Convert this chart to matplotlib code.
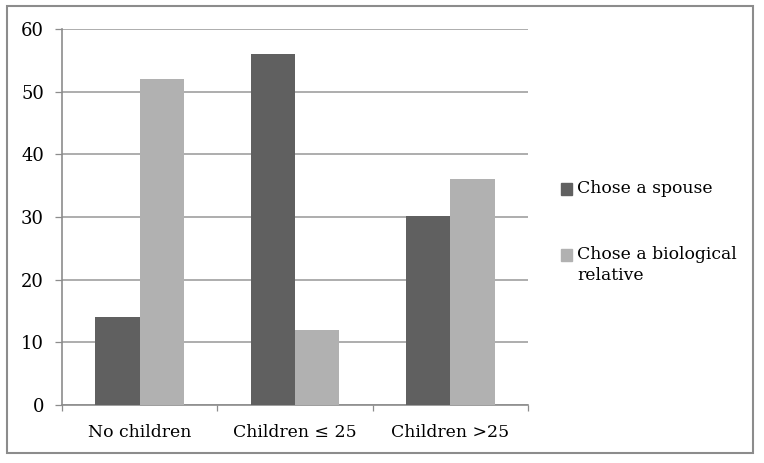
import numpy as np
import matplotlib.pyplot as plt
from matplotlib.patches import Rectangle

categories = ['No children', 'Children \u2264 25', 'Children >25']
spouse = [14, 56, 30.2]
relative = [52, 12, 36]
series_labels = ['Chose a spouse', 'Chose a biological\nrelative']
yticks = [0, 10, 20, 30, 40, 50, 60]

DARK = '#606060'
LIGHT = '#b1b1b1'
AXIS = '#8c8c8c'
W, H = 764, 463

plt.rcParams['font.family'] = ['DejaVu Serif']

fig = plt.figure(figsize=(W / 100, H / 100), dpi=100)
ax = fig.add_axes([62 / W, 58 / H, 466 / W, 376 / H])

x = np.arange(len(categories))
w = 0.285
ax.bar(x - w / 2, spouse, w, color=DARK, zorder=3)
ax.bar(x + w / 2, relative, w, color=LIGHT, zorder=3)

ax.set_xlim(-0.5, len(categories) - 0.5)
ax.set_ylim(0, 60)
ax.set_yticks(yticks)
ax.yaxis.grid(True, color='#a0a0a0', linewidth=1.2, zorder=0)
ax.tick_params(axis='y', direction='out', length=5, width=0.9, color=AXIS,
               labelsize=13, pad=8)

ax.set_xticks(x)
ax.set_xticklabels(categories)
ax.set_xticks(np.arange(-0.5, len(categories)), minor=True)
ax.tick_params(axis='x', which='major', length=0, labelsize=12.4, pad=14)
ax.tick_params(axis='x', which='minor', direction='out', length=4.5, width=0.9, color=AXIS)

for side in ['top', 'right']:
    ax.spines[side].set_visible(False)
for side in ['left', 'bottom']:
    ax.spines[side].set_color(AXIS)
    ax.spines[side].set_linewidth(1.2)

# legend drawn by hand so the swatch sits level with the first text line
legend_rows = [(series_labels[0], DARK, 183), (series_labels[1], LIGHT, 249)]
for label, color, top in legend_rows:
    fig.patches.append(Rectangle((561 / W, 1 - (top + 12) / H), 11 / W, 12 / H,
                                 transform=fig.transFigure, color=color))
    fig.text(577 / W, 1 - (top - 3) / H, label, ha='left', va='top',
             fontsize=12.4, linespacing=1.32)

fig.patches.append(Rectangle((7 / W, 10 / H), 746 / W, 447 / H,
                             transform=fig.transFigure, fill=False,
                             edgecolor=AXIS, linewidth=1.5))

fig.savefig('out.png', dpi=100)
